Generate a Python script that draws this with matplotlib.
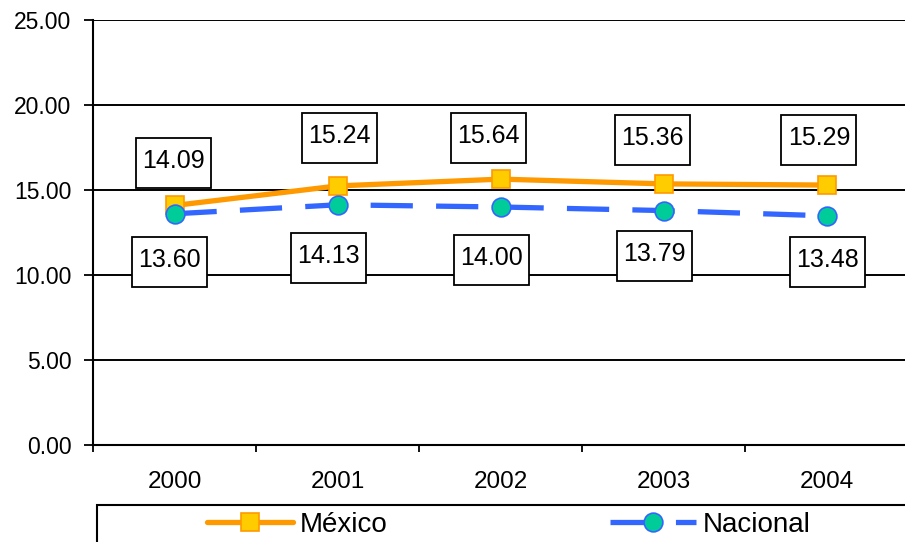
import matplotlib
matplotlib.use("Agg")
import matplotlib.pyplot as plt
from matplotlib.path import Path
from matplotlib.ticker import FixedLocator, FuncFormatter

plt.rcParams['font.family'] = ['Liberation Sans', 'DejaVu Sans']

years = ['2000', '2001', '2002', '2003', '2004']
mexico = [14.09, 15.24, 15.64, 15.36, 15.29]
nacional = [13.60, 14.13, 14.00, 13.79, 13.48]

# label offsets (pixels) from points
mex_off = [(-1, 42), (2, 48), (-12, 41), (-11, 44), (-8, 45)]
nac_off = [(-5, -48), (-9, -53), (-9, -53), (-9, -45), (1, -46)]

W, H = 905, 542
fig = plt.figure(figsize=(W / 100, H / 100), dpi=100)
ax = fig.add_axes([93 / W, 1 - 445 / H, 815.5 / W, 425 / H])

x = list(range(len(years)))
ax.plot(x, mexico, color='#FF9900', lw=3.8, marker='s', ms=13.5,
        mfc='#FFCC00', mec='#FF9900', mew=1.2, label='México', zorder=3,
        solid_capstyle='round')
ax.plot(x, nacional, color='#3366FF', lw=3.8, ls=(0, (8.0, 4.4)), marker='o',
        ms=13.5, mfc='#00CC99', mec='#3366FF', mew=1.2, label='Nacional',
        zorder=4)


def fixed_box(x0, y0, width, height, mutation_size):
    cx = x0 + width / 2
    cy = y0 + height / 2 - 2
    w, h = 75, 50
    return Path([(cx - w / 2, cy - h / 2), (cx + w / 2, cy - h / 2),
                 (cx + w / 2, cy + h / 2), (cx - w / 2, cy + h / 2),
                 (cx - w / 2, cy - h / 2)], closed=True)


for series, offs in ((mexico, mex_off), (nacional, nac_off)):
    for i, (v, o) in enumerate(zip(series, offs)):
        ax.annotate(f'{v:.2f}', xy=(i, v), xytext=(o[0], o[1] + 2),
                    textcoords='offset pixels',
                    ha='center', va='center', fontsize=18, zorder=6,
                    bbox=dict(boxstyle=fixed_box, fc='white', ec='black', lw=1.3))

ax.set_xlim(-0.5, 4.5)
ax.set_ylim(0, 25)
ax.set_yticks([0, 5, 10, 15, 20, 25])
ax.yaxis.set_major_formatter(FuncFormatter(lambda v, p: f'{v:.2f}'))
ax.set_xticks(x)
ax.set_xticklabels(years)
ax.xaxis.set_minor_locator(FixedLocator([i - 0.5 for i in range(len(years) + 1)]))
ax.tick_params(axis='x', which='major', length=0, pad=19, labelsize=17.5)
ax.tick_params(axis='x', which='minor', length=5, width=1.3, direction='out', color='black')
ax.tick_params(axis='y', which='major', length=6.5, width=1.3, direction='out',
               pad=9, labelsize=16.5, color='black')
ax.grid(axis='y', color='black', lw=1.4)
ax.set_axisbelow(True)
for s in ('top', 'right'):
    ax.spines[s].set_visible(False)
for s in ('left', 'bottom'):
    ax.spines[s].set_linewidth(1.5)
    ax.spines[s].set_color('black')

# legend frame
fig.patches.append(plt.Rectangle((97 / W, -0.1), 1.0, 0.1 + (542 - 505) / H,
                                 transform=fig.transFigure, fill=False,
                                 ec='black', lw=1.5))
fig.legend(loc='center left', bbox_to_anchor=(207 / W, 1 - 525 / H),
           ncol=2, frameon=False, fontsize=20, handlelength=3.1,
           handletextpad=0.25, columnspacing=8.0, borderpad=0, borderaxespad=0)

fig.savefig('out.png', dpi=100)
